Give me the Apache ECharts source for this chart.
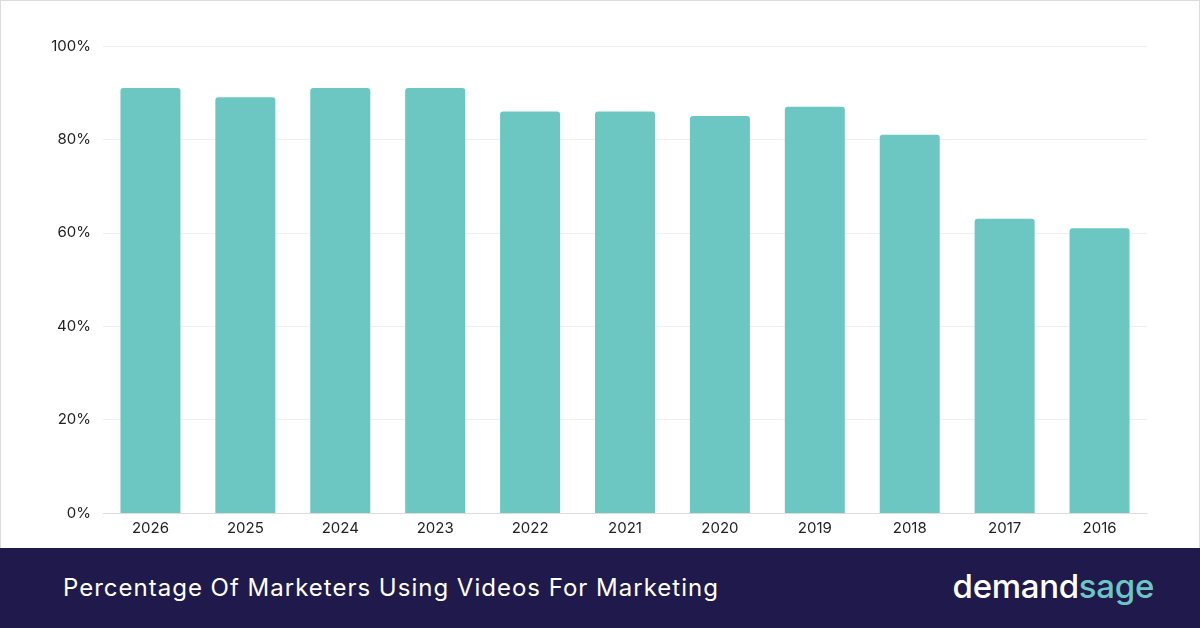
<!DOCTYPE html>
<html><head><meta charset="utf-8">
<script src="https://cdn.jsdelivr.net/npm/echarts@6/dist/echarts.min.js"></script>
<style>
body{margin:0;width:1200px;height:628px;overflow:hidden;background:#fff;font-family:Inter,sans-serif}
#c{position:absolute;left:0;top:0;width:1200px;height:548px;box-sizing:border-box;border:1px solid #ddd;border-bottom:none}
#f{position:absolute;left:0;top:548px;width:1200px;height:80px;background:#1f1a4b;color:#fff}
#t{position:absolute;left:63px;top:25px;font-size:24px;letter-spacing:1px}
#l{position:absolute;right:46px;top:18px;font-size:33px;font-weight:500;letter-spacing:-0.3px}
</style></head><body>
<div id="c"></div>
<div id="f"><div id="t">Percentage Of Marketers Using Videos For Marketing</div><div id="l">demand<span style="color:#6cc7c3">sage</span></div></div>
<script>
const categories=["2026","2025","2024","2023","2022","2021","2020","2019","2018","2017","2016"];
const values=[91,89,91,91,86,86,85,87,81,63,61];
const ch=echarts.init(document.getElementById('c'));
ch.setOption({
 animation:false,
 grid:{left:102,right:52,top:45,bottom:35},
 xAxis:{type:'category',data:categories,axisLine:{lineStyle:{color:'#ddd'}},axisTick:{show:false},
  axisLabel:{color:'#222',fontSize:15,fontFamily:'Inter',margin:8}},
 yAxis:{type:'value',min:0,max:100,interval:20,axisLabel:{formatter:'{value}%',color:'#222',fontSize:15,fontFamily:'Inter',margin:12},
  splitLine:{lineStyle:{color:'#f0f0f0'}}},
 series:[{type:'bar',data:values,barWidth:60,itemStyle:{color:'#6cc7c3',borderRadius:[3,3,0,0]}}]
});
</script></body></html>
